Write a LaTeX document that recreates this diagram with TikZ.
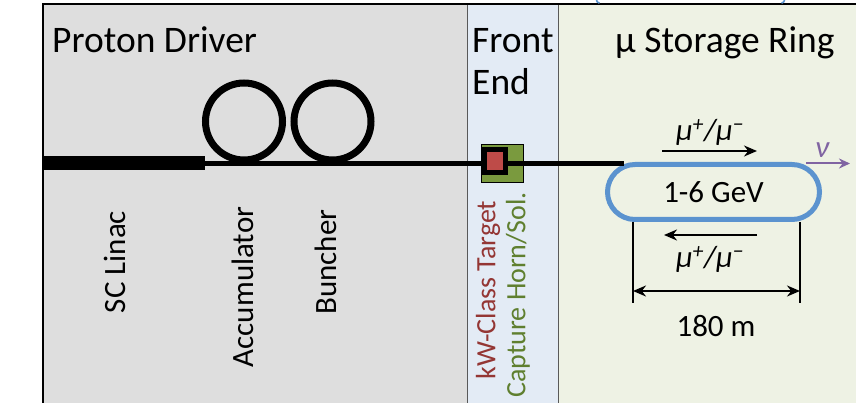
\documentclass[tikz,border=0pt]{standalone}
\usepackage{fontspec}
\setmainfont{Carlito}
\usetikzlibrary{arrows.meta}
\definecolor{pdgray}{HTML}{DEDEDE}
\definecolor{feblue}{HTML}{E3EBF5}
\definecolor{srgreen}{HTML}{EEF2E4}
\definecolor{ringblue}{HTML}{5B93CF}
\definecolor{tgtred}{HTML}{BE4B48}
\definecolor{tgtgreen}{HTML}{7A9A3E}
\definecolor{kwred}{HTML}{943634}
\definecolor{capgreen}{HTML}{5F7F2F}
\definecolor{nupurple}{HTML}{8064A2}
\newcommand{\mupm}{\itshape μ\textsuperscript{+}/μ\textsuperscript{−}}
\tikzset{
  head/.style={inner sep=0, anchor=base west, font=\fontsize{37.5}{40}\selectfont},
  vlabel/.style={rotate=90, inner sep=0, font=\fontsize{31}{34}\selectfont},
  felabel/.style={rotate=90, inner sep=0, font=\fontsize{28}{30}\selectfont},
  ringtxt/.style={font=\fontsize{31}{34}\selectfont},
  mulabel/.style={inner sep=0, font=\fontsize{31}{34}\selectfont},
  flowarrow/.style={line width=2.6, -{Stealth[length=13, width=11]}},
  dimarrow/.style={line width=2.6, {Stealth[length=13, width=11]}-{Stealth[length=13, width=11]}},
  dimline/.style={line width=1.3},
  storagering/.style={draw=ringblue, line width=5, rounded corners=27.5, minimum width=212, minimum height=55, inner sep=0},
  beamring/.style={circle, draw, line width=7, minimum size=77, inner sep=0},
  divider/.style={line width=0.9, black!65}
}
\begin{document}
\begin{tikzpicture}[x=1pt,y=-1pt]
\useasboundingbox (0,0) rectangle (856,403);
\fill[white] (0,0) rectangle (856,403);
% regions
\fill[pdgray] (43,4) rectangle (467,403);
\fill[feblue] (467,4) rectangle (558,403);
\fill[srgreen] (558,4) rectangle (856,403);
\draw[divider] (467,4) -- (467,403);
\draw[divider] (558,4) -- (558,403);
\draw[line width=2] (43,403) -- (43,4) -- (856,4);
% clipped bracket fragments at top
\draw[ringblue, line width=1.6] (596.5,0) .. controls (597,2) .. (599.5,3.2);
\draw[ringblue, line width=1.6] (784.5,0) .. controls (784,2) .. (781.5,3.2);
% headings
\node[head] (pdhead) at (52,53) {Proton Driver};
\node[head] (fehead1) at (472,53) {Front};
\node[head] (fehead2) at (472,95) {End};
\node[head] (srhead) at (615,53) {μ Storage Ring};
% rings of the proton driver
\node[beamring] (acc) at (244,121.5) {};
\node[beamring] (bun) at (332.5,121.5) {};
% target box (green)
\node[draw, line width=1.5, fill=tgtgreen, minimum width=42, minimum height=38, inner sep=0] (tgtbox) at (502.5,163.5) {};
% storage ring
\node[storagering, ringtxt] (ring) at (713.5,192) {1-6 GeV};
\coordinate (beamstart) at (43,163.5);
\coordinate (beamend) at (624,163.5);
\draw[line width=4.5] (beamstart) -- (beamend);
% SC linac bar
\fill (43,156) rectangle (205,170);
% target (red)
\node[draw, line width=5, fill=tgtred, minimum width=21, minimum height=23, inner sep=0] (tgt) at (494.5,161.5) {};
% vertical labels
\node[vlabel] (linac) at (115,262) {SC Linac};
\node[vlabel] (acclbl) at (243,287) {Accumulator};
\node[vlabel] (bunlbl) at (326,262) {Buncher};
\node[felabel, text=kwred] (kwlbl) at (488,290) {kW-Class Target};
\node[felabel, text=capgreen] (caplbl) at (518,295) {Capture Horn/Sol.};
% circulating muons
\coordinate (t1) at (662,151);
\coordinate (t2) at (757,151);
\draw[flowarrow] (t1) -- (t2);
\node[mulabel, anchor=base] (mutop) at (710,141) {\mupm};
\coordinate (b1) at (757,235);
\coordinate (b2) at (664,235);
\draw[flowarrow] (b1) -- (b2);
\node[mulabel, anchor=base] (mubot) at (710,268) {\mupm};
% neutrinos
\coordinate (n1) at (806,163.5);
\coordinate (n2) at (850,163.5);
\draw[nupurple, line width=2, -{Stealth[length=11, width=10]}] (n1) -- (n2);
\node[mulabel, anchor=base, text=nupurple] (nu) at (822,158) {\itshape ν};
% dimension
\coordinate (d1t) at (633,222);
\coordinate (d1b) at (633,303);
\coordinate (d2t) at (800,222);
\coordinate (d2b) at (800,303);
\draw[dimline] (d1t) -- (d1b);
\draw[dimline] (d2t) -- (d2b);
\coordinate (a1) at (633,291);
\coordinate (a2) at (800,291);
\draw[dimarrow] (a1) -- (a2);
\node[ringtxt] (len) at (716,326) {180 m};
\end{tikzpicture}
\end{document}
